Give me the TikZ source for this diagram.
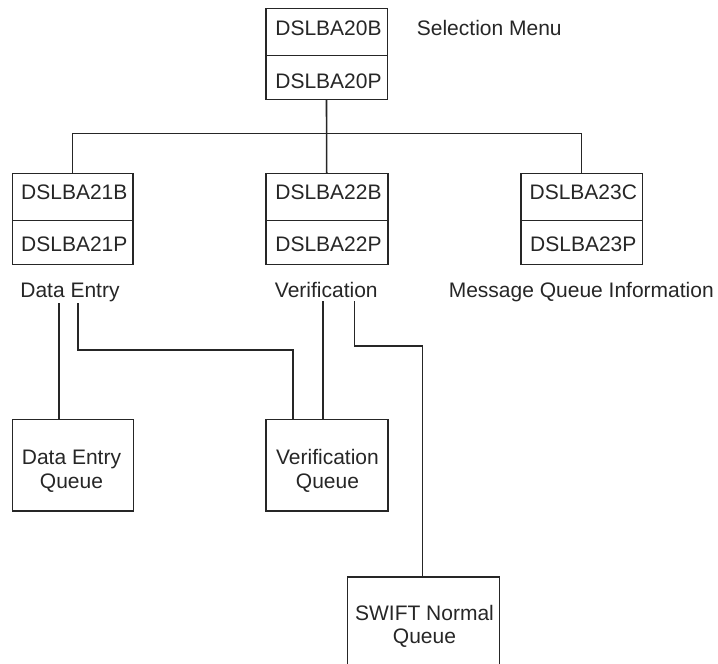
\documentclass[tikz,border=0pt]{standalone}
\usepackage{fontspec}
\setmainfont{Liberation Sans}
\begin{document}
\begin{tikzpicture}[x=1pt,y=-1pt,
  ink/.style={draw=black!85, line width=1.6pt},
  cell/.style={ink, rectangle, inner sep=0pt, outer sep=0pt, anchor=north west},
  txt/.style={inner sep=0pt, anchor=base, text=black!85,
    font=\fontsize{21}{24}\selectfont},
  wire/.style={ink}]
  \useasboundingbox (0,0) rectangle (718,664);
  \clip (0,0) rectangle (718,664);

  % program boxes: upper and lower halves
  \node[cell, minimum width=121.6pt, minimum height=47pt] (b20b) at (265.7,8.3) {};
  \node[cell, minimum width=121.6pt, minimum height=44pt] (b20p) at (b20b.south west) {};
  \node[cell, minimum width=120.5pt, minimum height=47pt] (b21b) at (12.3,173.3) {};
  \node[cell, minimum width=120.5pt, minimum height=44pt] (b21p) at (b21b.south west) {};
  \node[cell, minimum width=122pt, minimum height=47pt] (b22b) at (265.7,173.3) {};
  \node[cell, minimum width=122pt, minimum height=44pt] (b22p) at (b22b.south west) {};
  \node[cell, minimum width=121.6pt, minimum height=47pt] (b23b) at (520.7,173.3) {};
  \node[cell, minimum width=121.6pt, minimum height=44pt] (b23p) at (b23b.south west) {};

  % program names
  \node[txt] (t20b) at (328.5,35) {DSLBA20B};
  \node[txt] (t20p) at (328.5,88.3) {DSLBA20P};
  \node[txt] (t21b) at (74.3,199.3) {DSLBA21B};
  \node[txt] (t21p) at (74.3,251.7) {DSLBA21P};
  \node[txt] (t22b) at (328.5,199.3) {DSLBA22B};
  \node[txt] (t22p) at (328.5,251.7) {DSLBA22P};
  \node[txt] (t23b) at (583.3,199.3) {DSLBA23C};
  \node[txt] (t23p) at (583.3,251.7) {DSLBA23P};

  % captions
  \node[txt, anchor=base west] (selmenu) at (416.7,35) {Selection Menu};
  \node[txt] (dentry) at (70,297.5) {Data Entry};
  \node[txt] (verif) at (326.3,297.5) {Verification};
  \node[txt] (mqinfo) at (581.3,297.5) {Message Queue Information};

  % queue boxes
  \node[cell, minimum width=121pt, minimum height=91.7pt] (dq) at (12.3,419.3) {};
  \node[cell, minimum width=122pt, minimum height=91.7pt] (vq) at (265.7,419.3) {};
  \node[cell, minimum width=152pt, minimum height=120pt] (sq) at (347.3,576.7) {};
  \node[txt] (dq1) at (71.5,464.3) {Data Entry};
  \node[txt] (dq2) at (71.5,488) {Queue};
  \node[txt] (vq1) at (327.5,464.3) {Verification};
  \node[txt] (vq2) at (327.5,488) {Queue};
  \node[txt] (sq1) at (424.5,620) {SWIFT Normal};
  \node[txt] (sq2) at (424.5,643.5) {Queue};

  % menu tree
  \coordinate (bus) at (326.3,133.3);
  \draw[wire] (b20p.south) -- (b22b.north);
  \draw[wire] (b21b.north) -- (b21b.north |- bus) -- (b23b.north |- bus) -- (b23b.north);

  % queue connections
  \coordinate (de1) at (58.7,303.3);
  \coordinate (de2) at (78,303.3);
  \coordinate (ve1) at (322.7,301);
  \coordinate (ve2) at (354.3,301);
  \coordinate (k1) at (78,350);
  \coordinate (k2) at (354.3,345.7);
  \coordinate (vdrop) at (292.7,350);
  \coordinate (sdrop) at (422.3,345.7);
  \draw[wire] (de1) -- (de1 |- dq.north);
  \draw[wire] (de2) -- (k1) -- (vdrop) -- (vdrop |- vq.north);
  \draw[wire] (ve1) -- (ve1 |- vq.north);
  \draw[wire] (ve2) -- (k2) -- (sdrop) -- (sdrop |- sq.north);
\end{tikzpicture}
\end{document}
